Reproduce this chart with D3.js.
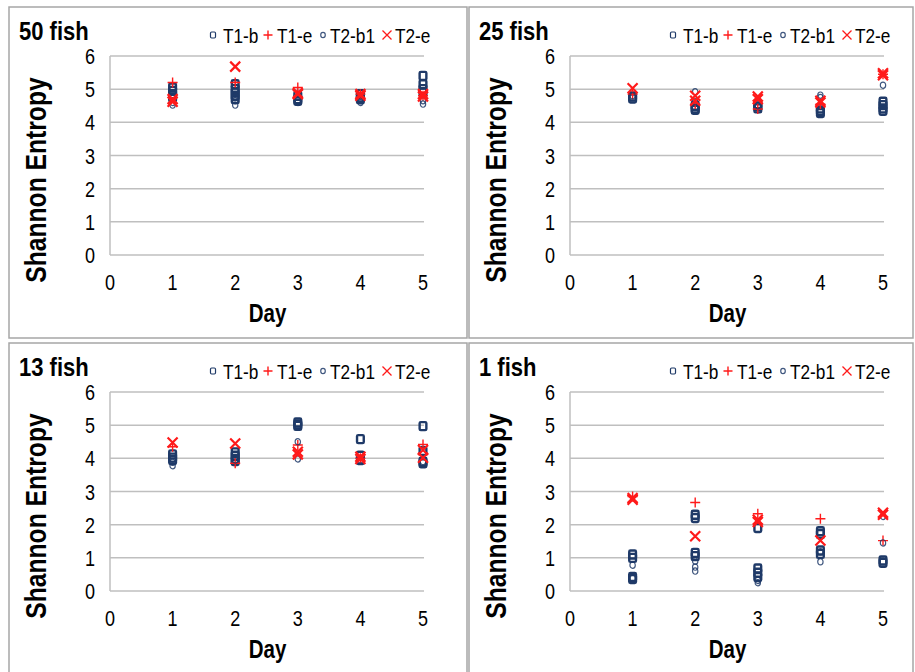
<!DOCTYPE html>
<html>
<head>
<meta charset="utf-8">
<script src="https://cdn.jsdelivr.net/npm/d3@7"></script>
<style>
  body { margin: 0; background: #fff; }
  text { font-family: "Liberation Sans", Arial, sans-serif; fill: #000; }
</style>
</head>
<body>
<svg id="chart" width="915" height="672"></svg>
<script>
// values per day (days 1..5), several replicates each
var days = [1, 2, 3, 4, 5];
var xTicks = [0, 1, 2, 3, 4, 5];
var yTicks = [0, 1, 2, 3, 4, 5, 6];
var seriesNames = ["T1-b", "T1-e", "T2-b1", "T2-e"];
var panelTitles = ["50 fish", "25 fish", "13 fish", "1 fish"];

var fish50_T1b  = [[5.05, 4.95, 4.85, 4.75], [5.15, 5.0, 4.9, 4.8, 4.7], [4.8, 4.7, 4.65], [4.85, 4.75, 4.7], [5.4, 5.15, 5.0, 4.9]];
var fish50_T1e  = [[5.2], [5.2], [5.05], [4.85], [4.8]];
var fish50_T2b1 = [[4.6, 4.52], [4.65, 4.52], [4.65, 4.6], [4.65, 4.6], [4.65, 4.55]];
var fish50_T2e  = [[4.7, 4.62], [5.68], [4.88, 4.85], [4.85, 4.8], [4.85, 4.78]];

var fish25_T1b  = [[4.78, 4.72], [4.5, 4.42, 4.38], [4.55, 4.48, 4.42], [4.42, 4.35, 4.28], [4.62, 4.52, 4.42, 4.35]];
var fish25_T1e  = [[4.85], [4.55], [4.4], [4.55], [5.45]];
var fish25_T2b1 = [[4.8], [4.92, 4.62], [4.5], [4.82, 4.75], [5.12]];
var fish25_T2e  = [[5.03], [4.8, 4.65], [4.78, 4.7], [4.6, 4.65], [5.48, 5.42]];

var fish13_T1b  = [[4.12, 4.02, 3.95], [4.18, 4.08, 3.98, 3.92], [5.08, 5.02, 4.98], [4.58, 4.08, 3.95], [4.97, 4.22, 3.9, 3.85]];
var fish13_T1e  = [[4.35], [3.85], [4.4], [4.0], [4.42]];
var fish13_T2b1 = [[3.88, 3.78], [3.95], [4.5, 3.98], [3.95], [3.9]];
var fish13_T2e  = [[4.48], [4.45], [4.2, 4.12], [4.05, 3.98], [4.25, 4.02]];

var fish1_T1b  = [[1.1, 1.0, 0.42, 0.36], [2.3, 2.2, 1.15, 1.05], [1.9, 0.68, 0.55, 0.42], [1.8, 1.72, 1.22, 1.12], [0.92, 0.85]];
var fish1_T1e  = [[2.85], [2.67], [2.33], [2.18], [1.52]];
var fish1_T2b1 = [[0.78, 0.38], [0.9, 0.72, 0.6], [0.32, 0.25], [0.88, 1.18], [2.25, 1.45]];
var fish1_T2e  = [[2.8, 2.75], [1.65], [2.15, 2.08], [1.52], [2.36, 2.3]];

var panelData = [
  [fish50_T1b, fish50_T1e, fish50_T2b1, fish50_T2e],
  [fish25_T1b, fish25_T1e, fish25_T2b1, fish25_T2e],
  [fish13_T1b, fish13_T1e, fish13_T2b1, fish13_T2e],
  [fish1_T1b, fish1_T1e, fish1_T2b1, fish1_T2e]
];

var navy = "#1f3a68",
    red = "#ff1a1a",
    grid = "#bfbfbf",
    narrow = 0.82;   // no Arial Narrow here, so squeeze the text

// panel boxes and plot origins
var panels = [
  {bx: 9,   by: 7,   bw: 458, bh: 331, x0: 110, y0: 56},
  {bx: 469, by: 7,   bw: 444, bh: 331, x0: 570, y0: 56},
  {bx: 9,   by: 343, bw: 458, bh: 335, x0: 110, y0: 392},
  {bx: 469, by: 343, bw: 444, bh: 335, x0: 570, y0: 392}
];
var pw = 313, ph = 199;

var svg = d3.select("#chart");

function label(g, x, y, str, size, opts) {
  opts = opts || {};
  var t = g.append("text")
    .attr("transform", "translate(" + x + "," + y + ")" + (opts.rotate ? " rotate(-90)" : "") +
          " scale(" + (opts.sx || narrow) + ",1)")
    .attr("text-anchor", opts.anchor || "start")
    .style("font-size", size + "px")
    .text(str);
  if (opts.bold) t.style("font-weight", "bold");
  return t;
}

// marker drawing: kind 0 square, 1 plus, 2 circle, 3 cross
function drawMarker(g, kind, s, legend) {
  if (kind == 0) {
    g.append("rect")
      .attr("x", -s * 0.42).attr("y", -s * 0.5)
      .attr("width", s * 0.84).attr("height", s)
      .attr("rx", 1.2)
      .attr("fill", "none").attr("stroke", navy)
      .attr("stroke-width", legend ? 1.2 : 2.4);
  } else if (kind == 1) {
    g.append("path")
      .attr("d", "M" + (-s / 2) + ",0H" + (s / 2) + "M0," + (-s / 2) + "V" + (s / 2))
      .attr("stroke", red).attr("stroke-width", 1.4).attr("fill", "none");
  } else if (kind == 2) {
    g.append("ellipse")
      .attr("rx", s * 0.38).attr("ry", s * 0.45)
      .attr("fill", "none").attr("stroke", navy)
      .attr("stroke-opacity", 0.85)
      .attr("stroke-width", 1.2);
  } else {
    var h = s / 2;
    g.append("path")
      .attr("d", "M" + (-h) + "," + (-h) + "L" + h + "," + h + "M" + (-h) + "," + h + "L" + h + "," + (-h))
      .attr("stroke", red).attr("stroke-width", legend ? 1.3 : 2.2).attr("fill", "none");
  }
}

panels.forEach(function (p, i) {
  var g = svg.append("g");

  g.append("rect")
    .attr("x", p.bx).attr("y", p.by)
    .attr("width", p.bw).attr("height", p.bh)
    .attr("fill", "#fff").attr("stroke", "#a6a6a6").attr("stroke-width", 1.5);

  var x = d3.scaleLinear().domain([0, 5]).range([p.x0, p.x0 + pw]);
  var y = d3.scaleLinear().domain([0, 6]).range([p.y0 + ph, p.y0]);

  // gridlines
  g.append("g").selectAll("line")
    .data(yTicks).enter().append("line")
    .attr("x1", x(0)).attr("x2", x(5) + 1)
    .attr("y1", d => y(d)).attr("y2", d => y(d))
    .attr("stroke", grid).attr("stroke-width", 1.5);

  g.append("line")
    .attr("x1", x(0)).attr("x2", x(0))
    .attr("y1", y(6)).attr("y2", y(0))
    .attr("stroke", grid).attr("stroke-width", 1.5);

  // tick labels
  yTicks.forEach(function (d) {
    label(g, x(0) - 20, y(d) + 8, d, 22, {anchor: "middle"});
  });
  xTicks.forEach(function (d) {
    label(g, x(d), y(0) + 35, d, 22, {anchor: "middle"});
  });

  // axis titles
  label(g, x(2.5) + 1, y(0) + 67, "Day", 25, {anchor: "middle", bold: true});
  label(g, p.x0 - 64, p.y0 + 124, "Shannon Entropy", 29, {anchor: "middle", bold: true, rotate: true, sx: 0.85});

  // panel title
  label(g, p.x0 - 91, p.y0 - 16, panelTitles[i], 25, {bold: true, sx: 0.88});

  // legend
  var legOffsets = [[103, 113], [158, 167], [213, 220], [277, 285]];
  seriesNames.forEach(function (name, k) {
    var m = g.append("g")
      .attr("transform", "translate(" + (p.x0 + legOffsets[k][0]) + "," + (p.y0 - 21) + ")");
    drawMarker(m, k, k == 0 || k == 2 ? 6 : 9, true);
    label(g, p.x0 + legOffsets[k][1], p.y0 - 13, name, 21);
  });

  // points, drawn series by series
  panelData[i].forEach(function (series, k) {
    var pts = [];
    series.forEach(function (vals, j) {
      vals.forEach(function (v) { pts.push({day: days[j], v: v}); });
    });
    g.append("g").selectAll("g")
      .data(pts).enter().append("g")
      .attr("transform", d => "translate(" + x(d.day) + "," + y(d.v) + ")")
      .each(function () {
        drawMarker(d3.select(this), k, k == 0 ? 8 : (k == 2 ? 7 : 10), false);
      });
  });
});
</script>
</body>
</html>
